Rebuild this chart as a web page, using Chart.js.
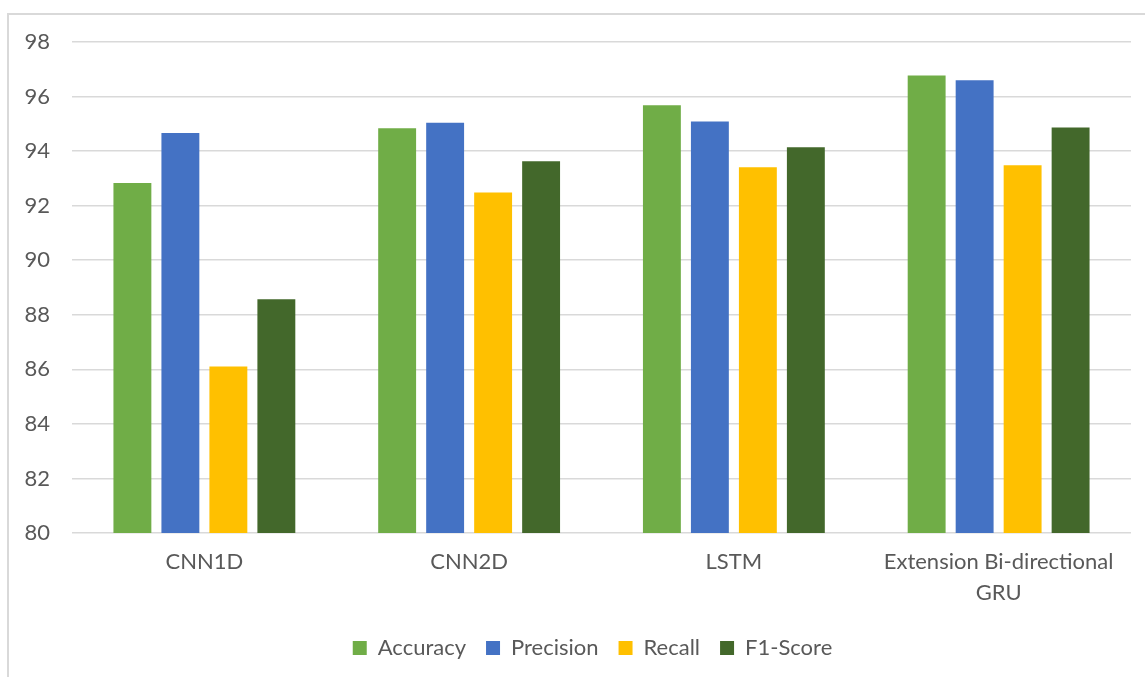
<!DOCTYPE html>
<html>
<head>
<meta charset="utf-8">
<script src="https://cdn.jsdelivr.net/npm/chart.js"></script>
<style>
  html, body { margin: 0; padding: 0; background: #fff; overflow: hidden; }
  #frame {
    position: absolute; left: 7px; top: 13px; width: 1200px; height: 700px;
    border-left: 2px solid #d9d9d9; border-top: 2px solid #d9d9d9;
  }
  #wrap { position: absolute; left: 0; top: 0; width: 1145px; height: 677px; }
</style>
</head>
<body>
<div id="frame"></div>
<div id="wrap"><canvas id="chart"></canvas></div>
<script>
const categories = ['CNN1D', 'CNN2D', 'LSTM', ['Extension Bi-directional', 'GRU']];
const accuracy = [92.83, 94.84, 95.68, 96.77];
const precision = [94.66, 95.04, 95.09, 96.60];
const recall = [86.10, 92.48, 93.41, 93.48];
const f1Score = [88.57, 93.63, 94.14, 94.87];
const yTicks = { min: 80, max: 98, step: 2 };

const textColor = '#595959';
const font = { family: 'Lato, "Liberation Sans", sans-serif', size: 22 };

// the legend is centred on the whole (wider) frame, not on the plot
const shiftLegend = {
    id: 'shiftLegend',
    afterLayout(chart) {
        chart.legend.left += 27;
        chart.legend.right += 27;
    }
};

new Chart(document.getElementById('chart'), {
    type: 'bar',
    data: {
        labels: categories,
        datasets: [
            { label: 'Accuracy', data: accuracy, backgroundColor: '#70AD47' },
            { label: 'Precision', data: precision, backgroundColor: '#4472C4' },
            { label: 'Recall', data: recall, backgroundColor: '#FFC000' },
            { label: 'F1-Score', data: f1Score, backgroundColor: '#43682B' }
        ]
    },
    plugins: [shiftLegend],
    options: {
        responsive: true,
        maintainAspectRatio: false,
        animation: false,
        datasets: { bar: { categoryPercentage: 0.725, barPercentage: 0.79 } },
        layout: { padding: { left: 0, right: 14, top: 42, bottom: 8 } },
        plugins: {
            tooltip: { enabled: false },
            legend: {
                position: 'bottom',
                labels: {
                    color: textColor,
                    font: font,
                    boxWidth: 14,
                    boxHeight: 14,
                    padding: 20
                }
            }
        },
        scales: {
            x: {
                grid: { display: false },
                border: { display: false },
                ticks: {
                    color: textColor,
                    font: { ...font, lineHeight: 1.4 },
                    padding: 6,
                    maxRotation: 0,
                    autoSkip: false
                },
                afterFit: s => { s.height = 84; }
            },
            y: {
                min: yTicks.min,
                max: yTicks.max,
                border: { display: false },
                grid: { color: '#d9d9d9', lineWidth: 1.5, drawTicks: false },
                ticks: {
                    stepSize: yTicks.step,
                    color: textColor,
                    font: font,
                    padding: 22
                },
                afterFit: s => { s.width = 72; }
            }
        }
    }
});
</script>
</body>
</html>
